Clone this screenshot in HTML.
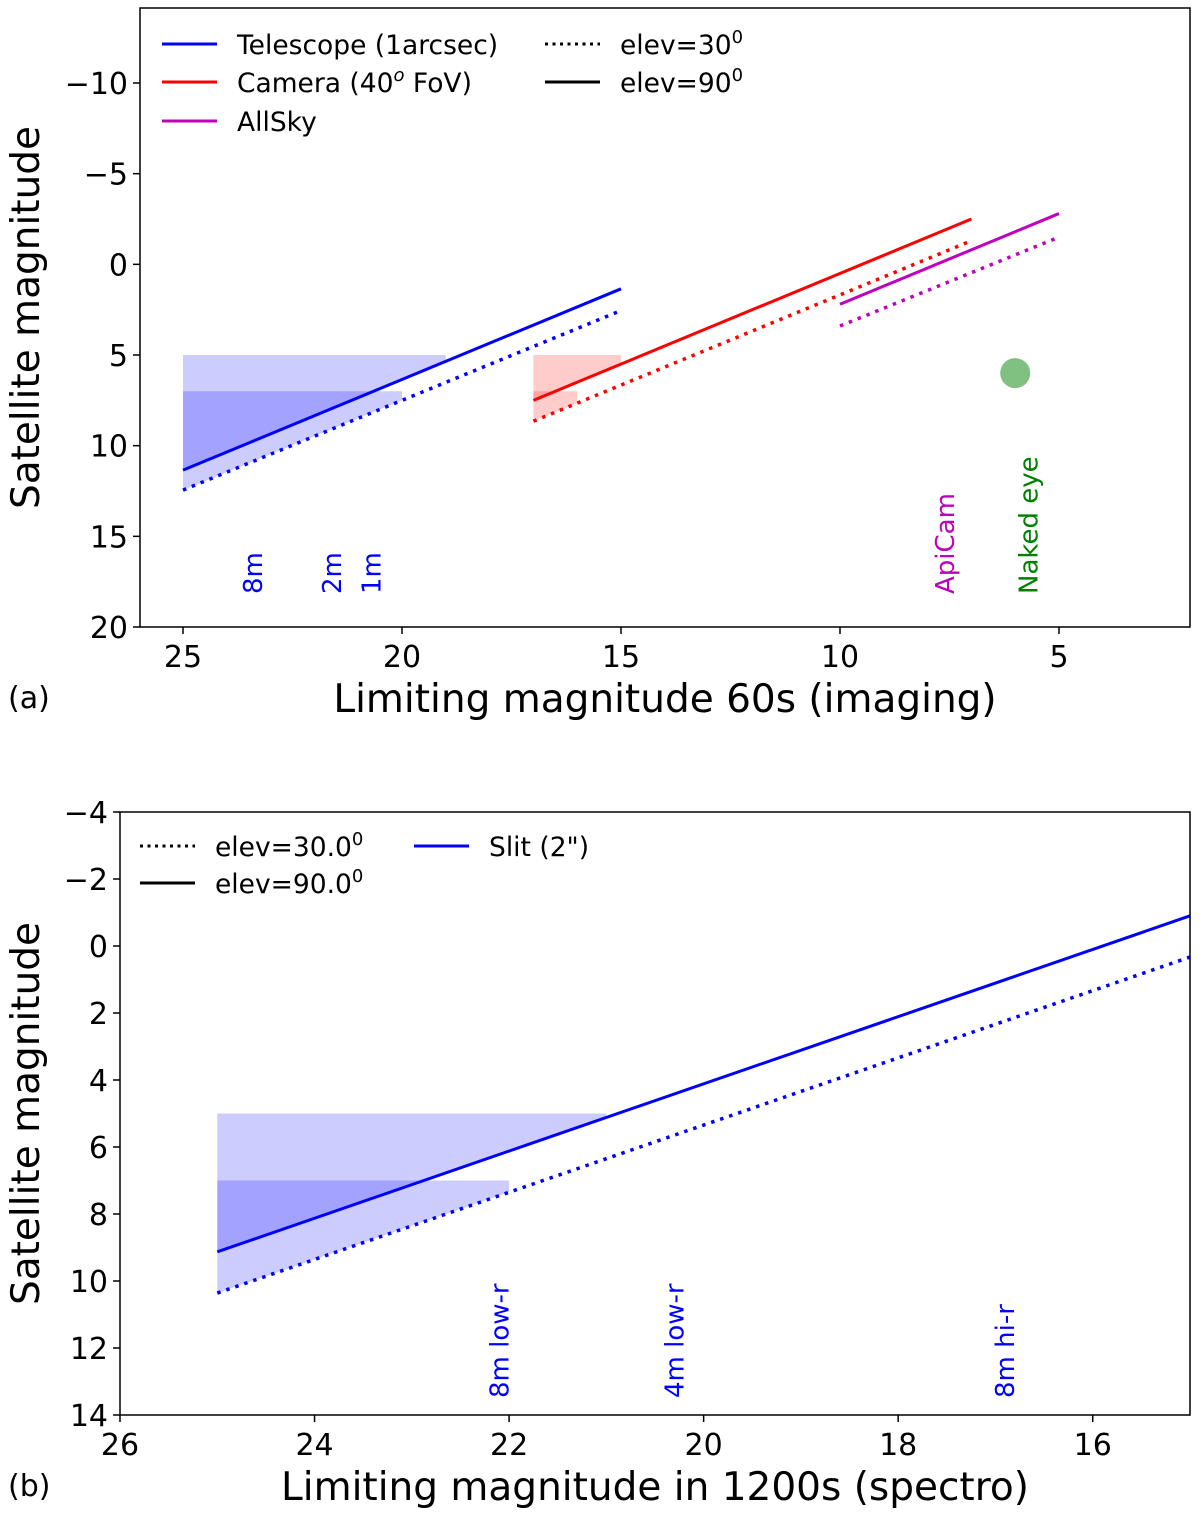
<!DOCTYPE html>
<html><head><meta charset="utf-8"><style>
html,body{margin:0;padding:0;background:#fff}
svg text{font-family:"DejaVu Sans","Liberation Sans",sans-serif}
</style></head><body>
<svg id="chart" width="1200" height="1509" viewBox="0 0 1200 1509" xmlns="http://www.w3.org/2000/svg">
<g id="pa"></g>
<g id="pb"></g>
</svg>
<script>
// ---- Panel (a) data ----
const aXTicks = [25, 20, 15, 10, 5];
const aYTicks = [-10, -5, 0, 5, 10, 15, 20];
const aTelX = [25, 15];
const aTel90 = [11.35, 1.35];
const aTel30 = [12.45, 2.55];
const aCamX = [17, 7];
const aCam90 = [7.5, -2.5];
const aCam30 = [8.65, -1.3];
const aSkyX = [10, 5];
const aSky90 = [2.2, -2.8];
const aSky30 = [3.4, -1.5];
const aEyeX = [6.0];
const aEyeY = [6.0];
const aLabels = ["8m", "2m", "1m", "ApiCam", "Naked eye"];
const aLabelX = [23.4, 21.6, 20.7, 7.6, 5.7];
// ---- Panel (b) data ----
const bXTicks = [26, 24, 22, 20, 18, 16];
const bYTicks = [-4, -2, 0, 2, 4, 6, 8, 10, 12, 14];
const bSlitX = [25, 15];
const bSlit90 = [9.13, -0.9];
const bSlit30 = [10.36, 0.33];
const bLabels = ["8m low-r", "4m low-r", "8m hi-r"];
const bLabelX = [22.1, 20.3, 16.9];

const NS = "http://www.w3.org/2000/svg";
function mk(parent, tag, attrs, txt) {
  const e = document.createElementNS(NS, tag);
  for (const k in attrs) e.setAttribute(k, attrs[k]);
  if (txt !== undefined) e.textContent = txt;
  parent.appendChild(e);
  return e;
}
function lin(d0, d1, p0, p1) { return v => p0 + (v - d0) / (d1 - d0) * (p1 - p0); }

function axes(g, box, xs, ys, xt, yt, xlabel, ylabel, tag) {
  for (const t of xt) {
    const x = xs(t);
    const tk = mk(g, "line", {x1: x, x2: x, y1: box.b, y2: box.b + 7, stroke: "#000", "stroke-width": 1.5});
    
    
    const lb = mk(g, "text", {x: x, y: box.b + 40, "font-size": 30, "text-anchor": "middle"}, String(t));
    
    
  }
  for (const t of yt) {
    const y = ys(t);
    const tk = mk(g, "line", {x1: box.l - 7, x2: box.l, y1: y, y2: y, stroke: "#000", "stroke-width": 1.5});
    
    
    const lb = mk(g, "text", {x: box.l - 12, y: y + 11, "font-size": 30, "text-anchor": "end"}, (t < 0 ? "\u2212" + (-t) : String(t)));
    
    
  }
  const fr = mk(g, "rect", {x: box.l, y: box.t, width: box.r - box.l, height: box.b - box.t, fill: "none", stroke: "#000", "stroke-width": 1.5});
  
  
  const xl = mk(g, "text", {x: (box.l + box.r) / 2, y: box.b + 85, "font-size": 39, "text-anchor": "middle"}, xlabel);
  
  
  const cy = (box.t + box.b) / 2;
  const yl = mk(g, "text", {x: 0, y: 0, "font-size": 39, "text-anchor": "middle", transform: `translate(39,${cy}) rotate(-90)`}, ylabel);
  
  
  const pl = mk(g, "text", {x: 8, y: box.b + 81, "font-size": 30}, tag);
  
  
}

function seg(g, xs, ys, X, Y, color, dotted, name) {
  const a = {x1: xs(X[0]), y1: ys(Y[0]), x2: xs(X[1]), y2: ys(Y[1]), stroke: color, "stroke-width": 3};
  if (dotted) { a["stroke-dasharray"] = "3.5,6"; a["stroke-width"] = 3.5; }
  const l = mk(g, "line", a);
  
  
}

function fillBetween(g, xs, ys, X, Y, base, x0, x1, fill, name) {
  const f = x => Y[0] + (x - X[0]) / (X[1] - X[0]) * (Y[1] - Y[0]);
  const pts = [`${xs(x0)},${ys(base)}`, `${xs(x1)},${ys(base)}`, `${xs(x1)},${ys(f(x1))}`, `${xs(x0)},${ys(f(x0))}`];
  const p = mk(g, "polygon", {points: pts.join(" "), fill: fill});
  
  
}

function shade(g, xs, ys, X, Y90, Y30, xA, xB, fill, name) {
  fillBetween(g, xs, ys, X, Y90, 5, X[0], xA, fill, name + '-upper');
  fillBetween(g, xs, ys, X, Y30, 7, X[0], xB, fill, name + '-lower');
}

function vlabel(g, x, yb, txt, color) {
  const t = mk(g, "text", {x: 0, y: 0, "font-size": 26, fill: color, transform: `translate(${x + 9},${yb}) rotate(-90)`}, txt);
  
  
}

function legendLine(g, x1, y, color, dotted, label, name) {
  const a = {x1: x1, x2: x1 + 55, y1: y, y2: y, stroke: color, "stroke-width": 3};
  if (dotted) { a["stroke-dasharray"] = "3,4.5"; a["stroke-width"] = 3; }
  const l = mk(g, "line", a);
  
  
  const t = mk(g, "text", {x: x1 + 75, y: y + 10, "font-size": 26.5});
  
  
  t.innerHTML = label;
}

// Panel a
(function () {
  const g = document.getElementById("pa");
  const box = {l: 140, r: 1190, t: 8, b: 627};
  const xs = lin(25, 5, 183, 1059);
  const ys = lin(-10, 20, 83, 627);
  shade(g, xs, ys, aTelX, aTel90, aTel30, 19, 20, "rgba(0,0,255,0.2)", "telescope-shade");
  shade(g, xs, ys, aCamX, aCam90, aCam30, 15, 16, "rgba(255,0,0,0.2)", "camera-shade");
  seg(g, xs, ys, aTelX, aTel90, "#0000ff", false, "telescope-elev90-line");
  seg(g, xs, ys, aTelX, aTel30, "#0000ff", true, "telescope-elev30-line");
  seg(g, xs, ys, aCamX, aCam90, "#ff0000", false, "camera-elev90-line");
  seg(g, xs, ys, aCamX, aCam30, "#ff0000", true, "camera-elev30-line");
  seg(g, xs, ys, aSkyX, aSky90, "#bf00bf", false, "allsky-elev90-line");
  seg(g, xs, ys, aSkyX, aSky30, "#bf00bf", true, "allsky-elev30-line");
  for (let i = 0; i < aEyeX.length; i++) {
    const c = mk(g, "circle", {cx: xs(aEyeX[i]), cy: ys(aEyeY[i]), r: 15, fill: "#80c080"});
    
    
  }
  const cols = ["#0000ff", "#0000ff", "#0000ff", "#bf00bf", "#008000"];
  for (let i = 0; i < aLabels.length; i++) vlabel(g, xs(aLabelX[i]), 594, aLabels[i], cols[i]);
  axes(g, box, xs, ys, aXTicks, aYTicks, "Limiting magnitude 60s (imaging)", "Satellite magnitude", "(a)");
  legendLine(g, 162, 44, "#0000ff", false, "Telescope (1arcsec)", "legend-telescope");
  legendLine(g, 162, 82, "#ff0000", false, 'Camera (40<tspan font-size="18" dy="-11" font-style="italic">o</tspan><tspan dy="11"> FoV)</tspan>', "legend-camera");
  legendLine(g, 162, 121, "#bf00bf", false, "AllSky", "legend-allsky");
  legendLine(g, 545, 44, "#000", true, 'elev=30<tspan font-size="18" dy="-11">0</tspan>', "legend-elev30");
  legendLine(g, 545, 82, "#000", false, 'elev=90<tspan font-size="18" dy="-11">0</tspan>', "legend-elev90");
})();

// Panel b
(function () {
  const g = document.getElementById("pb");
  const box = {l: 120, r: 1190, t: 812, b: 1415};
  const xs = lin(26, 15, 120, 1190);
  const ys = lin(-4, 14, 812, 1415);
  shade(g, xs, ys, bSlitX, bSlit90, bSlit30, 21, 22, "rgba(0,0,255,0.2)", "slit-shade");
  seg(g, xs, ys, bSlitX, bSlit90, "#0000ff", false, "slit-elev90-line");
  seg(g, xs, ys, bSlitX, bSlit30, "#0000ff", true, "slit-elev30-line");
  for (let i = 0; i < bLabels.length; i++) vlabel(g, xs(bLabelX[i]), 1398, bLabels[i], "#0000ff");
  axes(g, box, xs, ys, bXTicks, bYTicks, "Limiting magnitude in 1200s (spectro)", "Satellite magnitude", "(b)");
  legendLine(g, 140, 846, "#000", true, 'elev=30.0<tspan font-size="18" dy="-11">0</tspan>', "legend-elev30");
  legendLine(g, 140, 883, "#000", false, 'elev=90.0<tspan font-size="18" dy="-11">0</tspan>', "legend-elev90");
  legendLine(g, 414, 846, "#0000ff", false, 'Slit (2")', "legend-slit");
})();
</script>
</body></html>
